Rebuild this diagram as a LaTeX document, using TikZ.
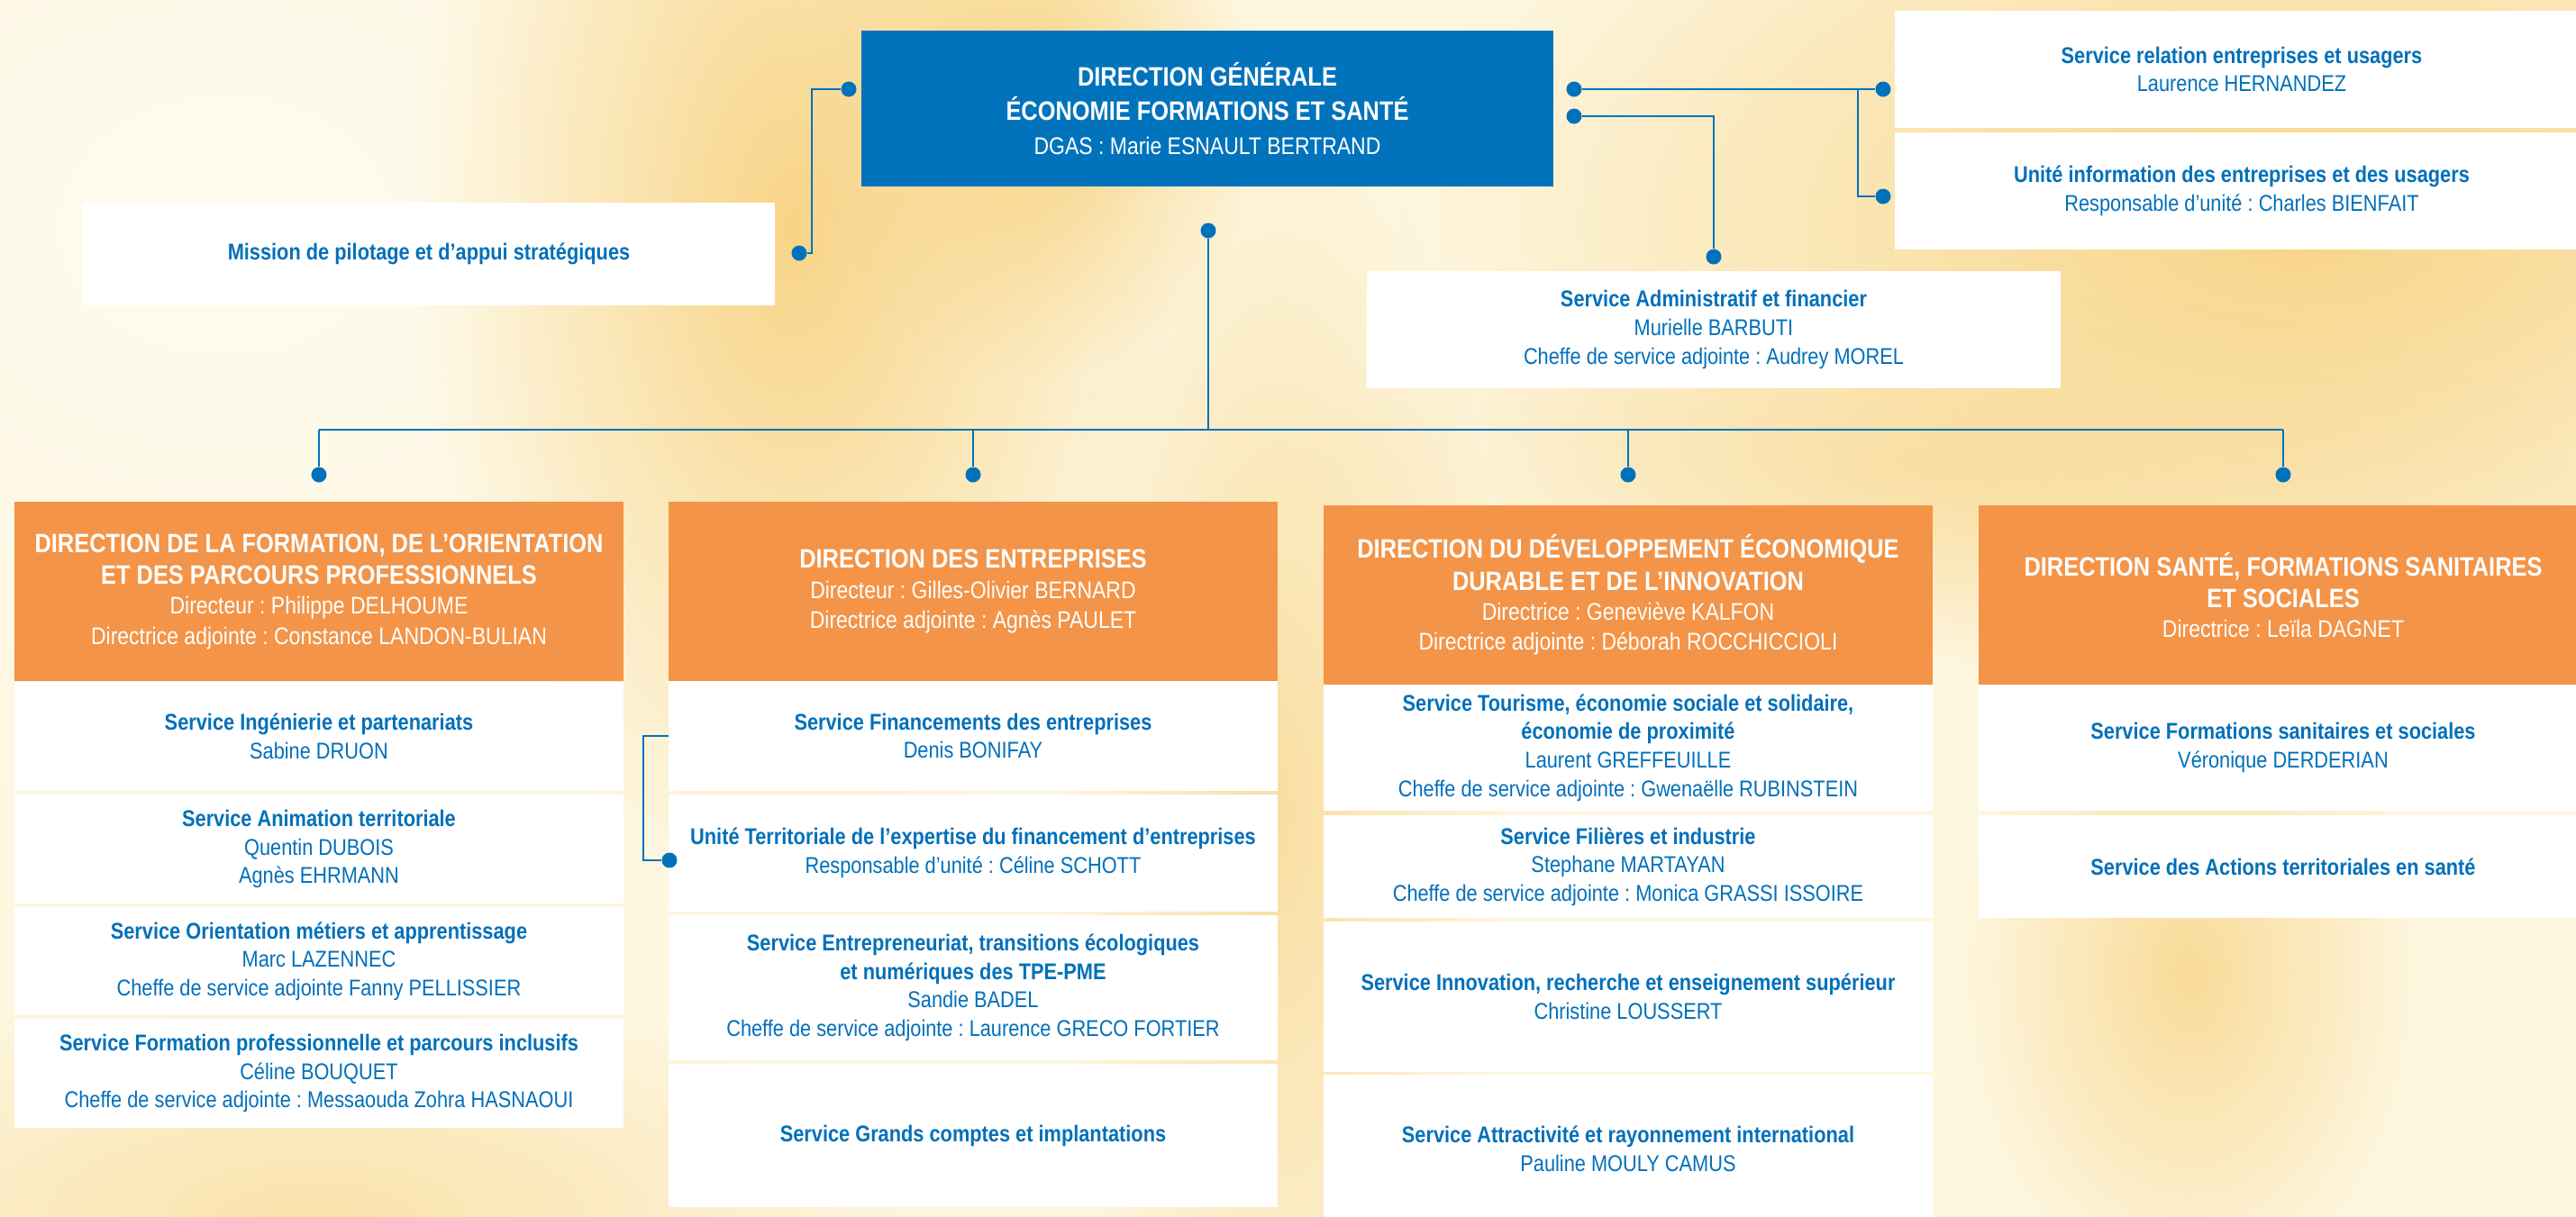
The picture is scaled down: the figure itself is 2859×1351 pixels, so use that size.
\documentclass[tikz,border=0pt]{standalone}
\usepackage{fontspec}
\setmainfont{Liberation Sans}[FakeStretch=0.86]
\frenchspacing
\usetikzlibrary{fadings}
\definecolor{dgblue}{RGB}{0,115,188}
\definecolor{headorange}{RGB}{243,148,72}
\definecolor{txtblue}{RGB}{0,112,186}
\definecolor{lineblue}{RGB}{0,114,188}
\definecolor{bgcream}{RGB}{254,247,224}
\definecolor{bglight}{RGB}{255,252,238}
\definecolor{bgwarm}{RGB}{248,212,135}
\newcommand{\dirtitle}[1]{{\fontsize{8.4}{9.4}\selectfont\bfseries #1}}
\tikzfading[name=softblob,inner color=transparent!0,outer color=transparent!100]

\begin{document}
\begin{tikzpicture}[x=0.01cm,y=-0.01cm,
  box/.style={inner sep=0pt,align=center,minimum width=6.75cm,font=\fontsize{7.2}{9}\selectfont},
  dgbox/.style={box,fill=dgblue,text=white,minimum width=7.68cm,minimum height=1.73cm,font=\fontsize{7.6}{9.6}\selectfont},
  headbox/.style={box,fill=headorange,text=white,minimum height=1.99cm,font=\fontsize{7.6}{9.4}\selectfont},
  servbox/.style={box,fill=white,text=txtblue},
  knob/.style={circle,fill=lineblue,inner sep=0pt,minimum size=0.17cm},
  link/.style={draw=lineblue,line width=0.6pt},
  blob/.style={fill=bgwarm,path fading=softblob}]
\useasboundingbox (0,0) rectangle (2859,1351);
\clip (0,0) rectangle (2859,1351);
% background
\fill[bgcream] (0,0) rectangle (2859,1351);
\fill[bglight,path fading=softblob] (250,250) ellipse (900 and 700);
\fill[blob] (880,250) ellipse (420 and 750);
\fill[blob] (1150,120) ellipse (250 and 300);
\fill[blob] (2550,250) ellipse (1000 and 550);
\fill[blob,opacity=.7] (1420,900) ellipse (260 and 800);
\fill[blob,opacity=.8] (2430,1080) ellipse (260 and 380);
\fill[blob,opacity=.6] (350,1351) ellipse (700 and 260);
\fill[blob,opacity=.5] (2150,520) ellipse (700 and 200);

% top level
\node[dgbox] (dg) at (1340,120.5) {\dirtitle{DIRECTION GÉNÉRALE}\\[1.2pt]\dirtitle{ÉCONOMIE FORMATIONS ET SANTÉ}\\[1pt]DGAS : Marie ESNAULT BERTRAND};
\node[servbox,minimum width=7.68cm,minimum height=1.14cm] (mis) at (476,282) {\textbf{Mission de pilotage et d’appui stratégiques}};
\node[servbox,minimum width=7.7cm,minimum height=1.3cm] (rel) at (2488,77) {\textbf{Service relation entreprises et usagers}\\Laurence HERNANDEZ};
\node[servbox,minimum width=7.7cm,minimum height=1.3cm] (uinfo) at (2488,212) {\textbf{Unité information des entreprises et des usagers}\\Responsable d’unité : Charles BIENFAIT};
\node[servbox,minimum width=7.7cm,minimum height=1.3cm] (adm) at (1902,366) {\textbf{Service Administratif et financier}\\Murielle BARBUTI\\Cheffe de service adjointe : Audrey MOREL};

% directions
\node[headbox] (head1) at (354,656.5) {\dirtitle{DIRECTION DE LA FORMATION, DE L’ORIENTATION}\\[0.8pt]\dirtitle{ET DES PARCOURS PROFESSIONNELS}\\Directeur : Philippe DELHOUME\\Directrice adjointe : Constance LANDON-BULIAN};
\node[headbox] (head2) at (1080,656.5) {\dirtitle{DIRECTION DES ENTREPRISES}\\Directeur : Gilles-Olivier BERNARD\\Directrice adjointe : Agnès PAULET};
\node[headbox] (head3) at (1807,660.5) {\dirtitle{DIRECTION DU DÉVELOPPEMENT ÉCONOMIQUE}\\[0.8pt]\dirtitle{DURABLE ET DE L’INNOVATION}\\Directrice : Geneviève KALFON\\Directrice adjointe : Déborah ROCCHICCIOLI};
\node[headbox] (head4) at (2534,660.5) {\dirtitle{DIRECTION SANTÉ, FORMATIONS SANITAIRES}\\[0.8pt]\dirtitle{ET SOCIALES}\\Directrice : Leïla DAGNET};

% services
\node[servbox,minimum height=1.21cm] (ing) at (354,817.5) {\textbf{Service Ingénierie et partenariats}\\Sabine DRUON};
\node[servbox,minimum height=1.21cm] (anim) at (354,942.5) {\textbf{Service Animation territoriale}\\Quentin DUBOIS\\Agnès EHRMANN};
\node[servbox,minimum height=1.2cm] (orient) at (354,1067) {\textbf{Service Orientation métiers et apprentissage}\\Marc LAZENNEC\\Cheffe de service adjointe Fanny PELLISSIER};
\node[servbox,minimum height=1.21cm] (fpro) at (354,1191.5) {\textbf{Service Formation professionnelle et parcours inclusifs}\\Céline BOUQUET\\Cheffe de service adjointe : Messaouda Zohra HASNAOUI};

\node[servbox,minimum height=1.22cm] (fin) at (1080,817) {\textbf{Service Financements des entreprises}\\Denis BONIFAY};
\node[servbox,minimum height=1.3cm] (ut) at (1080,947) {\textbf{Unité Territoriale de l’expertise du financement d’entreprises}\\Responsable d’unité : Céline SCHOTT};
\node[servbox,minimum height=1.61cm] (entr) at (1080,1096.5) {\textbf{Service Entrepreneuriat, transitions écologiques}\\\textbf{et numériques des TPE-PME}\\Sandie BADEL\\Cheffe de service adjointe : Laurence GRECO FORTIER};
\node[servbox,minimum height=1.59cm] (gc) at (1080,1260.5) {\textbf{Service Grands comptes et implantations}};

\node[servbox,minimum height=1.4cm] (tour) at (1807,830) {\textbf{Service Tourisme, économie sociale et solidaire,}\\\textbf{économie de proximité}\\Laurent GREFFEUILLE\\Cheffe de service adjointe : Gwenaëlle RUBINSTEIN};
\node[servbox,minimum height=1.14cm] (fil) at (1807,962) {\textbf{Service Filières et industrie}\\Stephane MARTAYAN\\Cheffe de service adjointe : Monica GRASSI ISSOIRE};
\node[servbox,minimum height=1.67cm] (innov) at (1807,1106.5) {\textbf{Service Innovation, recherche et enseignement supérieur}\\Christine LOUSSERT};
\node[servbox,minimum height=1.65cm] (attr) at (1807,1275.5) {\textbf{Service Attractivité et rayonnement international}\\Pauline MOULY CAMUS};

\node[servbox,minimum height=1.4cm] (fss) at (2534,830) {\textbf{Service Formations sanitaires et sociales}\\Véronique DERDERIAN};
\node[servbox,minimum height=1.14cm] (ats) at (2534,962) {\textbf{Service des Actions territoriales en santé}};

% connectors
\node[knob] (kMis) at (887,281) {};
\node[knob] (kDGL) at (942,99) {};
\node[knob] (kDGR) at (1747,99) {};
\node[knob] (kDGA) at (1747,129) {};
\node[knob] (kRel) at (2090,99) {};
\node[knob] (kUinfo) at (2090,218) {};
\node[knob] (kAdm) at (1902,285) {};
\node[knob] (kDGB) at (1341,256) {};
\node[knob] (kUT) at (743,955) {};
\foreach \c/\x in {1/354,2/1080,3/1807,4/2534} \node[knob] (kC\c) at (\x,527) {};
\coordinate (bus) at (0,477);

\draw[link] (kMis) -- ++(14,0) |- (kDGL);
\draw[link] (kDGR) -- (kRel);
\draw[link] (kRel) ++(-28,0) |- (kUinfo);
\draw[link] (kDGA) -| (kAdm);
\draw[link] (kDGB) -- (kDGB |- bus);
\draw[link] (kC1 |- bus) -- (kC4 |- bus);
\foreach \c in {1,...,4} \draw[link] (kC\c) -- (kC\c |- bus);
\draw[link] (kUT) -- ++(-29,0) |- (fin.west);
\end{tikzpicture}
\end{document}
